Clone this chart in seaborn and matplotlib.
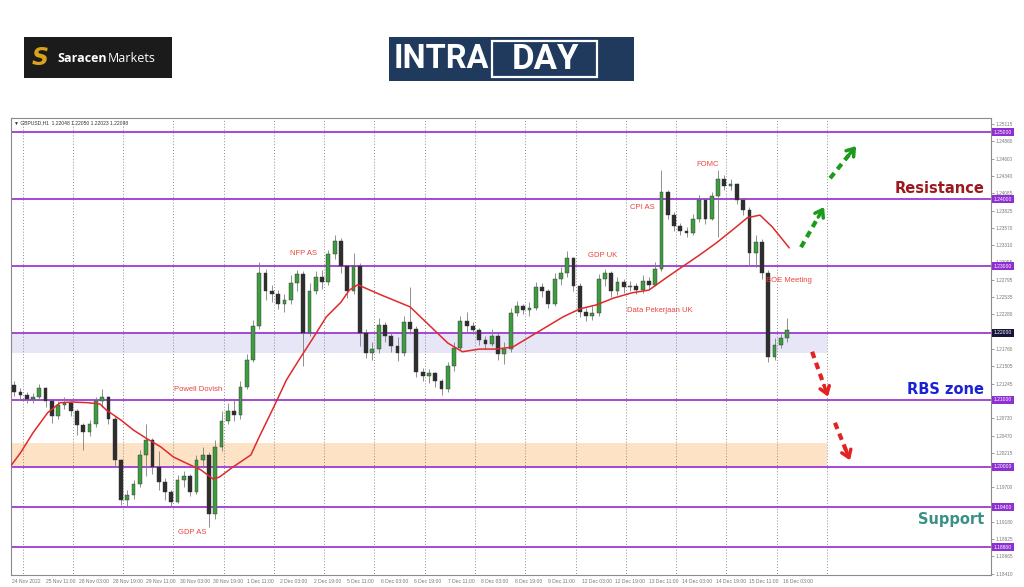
import numpy as np
import pandas as pd
import seaborn as sns
import matplotlib.pyplot as plt
from matplotlib.patches import Rectangle, FancyArrowPatch

# GBPUSD H1, grouped in 3-hour candles (x axis = hourly bar index)
first_open = 1.2122
closes = [1.2112, 1.2108, 1.2102, 1.2104, 1.2118, 1.2098, 1.2076, 1.2092, 1.2096, 1.2084,
          1.2062, 1.2052, 1.2064, 1.2098, 1.2104, 1.2072, 1.2010, 1.1950, 1.1958, 1.1974,
          1.2018, 1.2040, 1.2000, 1.1978, 1.1962, 1.1948, 1.1980, 1.1986, 1.1962, 1.2010,
          1.2018, 1.1930, 1.2030, 1.2068, 1.2084, 1.2078, 1.2120, 1.2160, 1.2210, 1.2290,
          1.2262, 1.2258, 1.2244, 1.2250, 1.2274, 1.2288, 1.2200, 1.2262, 1.2284, 1.2276,
          1.2318, 1.2338, 1.2300, 1.2262, 1.2300, 1.2200, 1.2170, 1.2176, 1.2212, 1.2196,
          1.2180, 1.2170, 1.2216, 1.2206, 1.2142, 1.2136, 1.2140, 1.2128, 1.2116, 1.2150,
          1.2178, 1.2218, 1.2210, 1.2204, 1.2190, 1.2184, 1.2196, 1.2168, 1.2176, 1.2230,
          1.2240, 1.2234, 1.2238, 1.2268, 1.2262, 1.2244, 1.2280, 1.2290, 1.2312, 1.2270,
          1.2232, 1.2226, 1.2230, 1.2280, 1.2290, 1.2262, 1.2276, 1.2268, 1.2270, 1.2264,
          1.2278, 1.2272, 1.2296, 1.2410, 1.2376, 1.2360, 1.2352, 1.2350, 1.2370, 1.2398,
          1.2370, 1.2404, 1.2430, 1.2420, 1.2422, 1.2398, 1.2384, 1.2320, 1.2336, 1.2290,
          1.2164, 1.2182, 1.2192, 1.2205]
highs = [1.2128, 1.2118, 1.2112, 1.2110, 1.2124, 1.2120, 1.2100, 1.2098, 1.2104, 1.2098,
         1.2086, 1.2066, 1.2070, 1.2104, 1.2116, 1.2106, 1.2076, 1.2012, 1.1966, 1.1980,
         1.2026, 1.2064, 1.2044, 1.2024, 1.1984, 1.1966, 1.1988, 1.1994, 1.1990, 1.2018,
         1.2030, 1.2022, 1.2040, 1.2084, 1.2096, 1.2100, 1.2128, 1.2168, 1.2220, 1.2306,
         1.2296, 1.2272, 1.2264, 1.2258, 1.2286, 1.2294, 1.2292, 1.2274, 1.2292, 1.2294,
         1.2324, 1.2346, 1.2342, 1.2302, 1.2320, 1.2304, 1.2206, 1.2186, 1.2222, 1.2216,
         1.2200, 1.2194, 1.2226, 1.2268, 1.2210, 1.2148, 1.2146, 1.2142, 1.2132, 1.2156,
         1.2186, 1.2226, 1.2232, 1.2216, 1.2208, 1.2196, 1.2206, 1.2200, 1.2186, 1.2238,
         1.2248, 1.2244, 1.2246, 1.2276, 1.2274, 1.2266, 1.2290, 1.2298, 1.2322, 1.2314,
         1.2274, 1.2238, 1.2240, 1.2288, 1.2296, 1.2292, 1.2284, 1.2280, 1.2278, 1.2274,
         1.2286, 1.2284, 1.2306, 1.2444, 1.2414, 1.2380, 1.2364, 1.2358, 1.2378, 1.2406,
         1.2402, 1.2410, 1.2444, 1.2436, 1.2430, 1.2424, 1.2402, 1.2388, 1.2346, 1.2340,
         1.2294, 1.2192, 1.2198, 1.2222]
lows = [1.2106, 1.2100, 1.2096, 1.2095, 1.2100, 1.2090, 1.2066, 1.2072, 1.2086, 1.2076,
        1.2048, 1.2026, 1.2046, 1.2060, 1.2090, 1.2064, 1.2000, 1.1944, 1.1942, 1.1952,
        1.1970, 1.1986, 1.1990, 1.1966, 1.1950, 1.1942, 1.1946, 1.1970, 1.1956, 1.1960,
        1.1998, 1.1910, 1.1922, 1.2024, 1.2064, 1.2068, 1.2072, 1.2116, 1.2156, 1.2206,
        1.2250, 1.2246, 1.2236, 1.2232, 1.2244, 1.2262, 1.2150, 1.2196, 1.2258, 1.2266,
        1.2272, 1.2310, 1.2290, 1.2252, 1.2258, 1.2180, 1.2162, 1.2160, 1.2170, 1.2186,
        1.2172, 1.2158, 1.2166, 1.2198, 1.2134, 1.2128, 1.2126, 1.2120, 1.2108, 1.2112,
        1.2144, 1.2174, 1.2200, 1.2198, 1.2182, 1.2176, 1.2180, 1.2160, 1.2154, 1.2172,
        1.2226, 1.2228, 1.2226, 1.2234, 1.2254, 1.2238, 1.2240, 1.2272, 1.2284, 1.2262,
        1.2224, 1.2218, 1.2220, 1.2226, 1.2270, 1.2254, 1.2256, 1.2260, 1.2262, 1.2258,
        1.2260, 1.2266, 1.2270, 1.2292, 1.2370, 1.2352, 1.2346, 1.2344, 1.2346, 1.2366,
        1.2362, 1.2368, 1.2344, 1.2414, 1.2414, 1.2392, 1.2376, 1.2300, 1.2298, 1.2280,
        1.2156, 1.2160, 1.2178, 1.2186]

# red moving average
ma_hours = [-1, 4, 10, 17, 23, 29, 36, 42, 45, 52, 58, 64, 71, 77, 83, 90, 96, 99, 105, 114,
            118, 125, 131, 137, 144, 150, 157, 161, 165, 176, 190, 200, 208, 215, 223, 231, 239,
            247, 255, 263, 271, 279, 287, 296, 304, 313, 320, 328, 336, 344, 351, 357, 363, 371]
ma_values = [1.2000, 1.2021, 1.2051, 1.2081, 1.2096, 1.2097, 1.2096, 1.2094, 1.2085, 1.2070,
             1.2055, 1.2043, 1.2030, 1.2015, 1.2006, 1.1996, 1.1982, 1.1985, 1.1999, 1.2018,
             1.2045, 1.2090, 1.2130, 1.2160, 1.2194, 1.2224, 1.2246, 1.2264, 1.2272, 1.2257,
             1.2239, 1.2209, 1.2185, 1.2172, 1.2176, 1.2176, 1.2179, 1.2194, 1.2209, 1.2224,
             1.2236, 1.2242, 1.2252, 1.2260, 1.2264, 1.2284, 1.2299, 1.2316, 1.2334, 1.2354,
             1.2372, 1.2376, 1.2358, 1.2327]

levels = [1.25, 1.24, 1.23, 1.22, 1.21, 1.20, 1.194, 1.188]
blue_zone = (1.2170, 1.2200)
orange_zone = (1.2000, 1.2036)
zone_end_hour = 389

# right-axis scale labels (the ones hidden under the level tags are left out)
price_ticks = [1.25115, 1.24860, 1.24600, 1.24340, 1.24085, 1.23825, 1.23570, 1.23310,
               1.23055, 1.22795, 1.22535, 1.22280, 1.21760, 1.21505, 1.21245,
               1.20730, 1.20470, 1.20215, 1.19700, 1.19180,
               1.18925, 1.18665, 1.18410]
time_labels = ["24 Nov 2022", "25 Nov 11:00", "28 Nov 03:00", "28 Nov 19:00", "29 Nov 11:00",
               "30 Nov 03:00", "30 Nov 19:00", "1 Dec 11:00", "2 Dec 03:00", "2 Dec 19:00",
               "5 Dec 11:00", "6 Dec 03:00", "6 Dec 19:00", "7 Dec 11:00", "8 Dec 03:00",
               "8 Dec 19:00", "9 Dec 11:00", "12 Dec 03:00", "12 Dec 19:00", "13 Dec 11:00",
               "14 Dec 03:00", "14 Dec 19:00", "15 Dec 11:00", "16 Dec 03:00"]

event_names = ["Powell Dovish", "GDP AS", "NFP AS", "GDP UK", "Data Pekerjaan UK",
               "CPI AS", "FOMC", "BOE Meeting"]
event_hours = [89, 86, 139, 282, 309, 301, 332, 371]
event_prices = [1.2115, 1.1902, 1.2318, 1.2315, 1.2234, 1.2388, 1.2452, 1.2278]

sns.set_style('white')
plt.rcParams['font.family'] = ['Liberation Sans', 'DejaVu Sans']

fig = plt.figure(figsize=(10.24, 5.87), dpi=100)
ax = fig.add_axes([11 / 1024, 1 - 575 / 587, 980 / 1024, 457 / 587])

n = len(closes)
df = pd.DataFrame({
    'hour': [3 * k + 1 for k in range(n)],
    'open': [first_open] + closes[:-1],
    'high': highs, 'low': lows, 'close': closes,
})
up = df['close'] >= df['open']

# zones
for (lo, hi), col in [(blue_zone, '#e6e6f7'), (orange_zone, '#fde2c6')]:
    ax.add_patch(Rectangle((-1, lo), zone_end_hour + 1, hi - lo, facecolor=col,
                           edgecolor='none', zorder=0))

# day separators (dotted)
ax.vlines(range(5, zone_end_hour + 1, 24), 1.18, 1.26, colors='#8c8c8c',
          linestyles=(0, (1, 2)), lw=0.7, zorder=1)

for lv in levels:
    ax.axhline(lv, color='#9c3ad4', lw=1.3, zorder=2)

# candles
ax.vlines(df['hour'], df['low'], df['high'], colors='#7d7d7d', lw=0.6, zorder=3)
ax.bar(df['hour'], df['close'] - df['open'], bottom=df['open'], width=1.8,
       color=np.where(up, '#3f9b3f', '#2e2e2e'), edgecolor='#333333', lw=0.3, zorder=4)

sns.lineplot(x=ma_hours, y=ma_values, ax=ax, color='#e02a2a', lw=1.1, zorder=5)

ax.set_xlim(-0.5, 467.3)
ax.set_ylim(1.18388, 1.25209)

ax.yaxis.tick_right()
ax.set_yticks(price_ticks)
ax.set_yticklabels([f'{v:.5f}' for v in price_ticks], fontsize=3.4, color='#555555')
ax.set_xticks(range(0, 16 * len(time_labels), 16))
ax.set_xticklabels(time_labels, fontsize=3.6, color='#555555', ha='left')
ax.tick_params(axis='both', length=2, width=0.5, pad=1, colors='#777777')
ax.set_xlabel('')
ax.set_ylabel('')
for s in ax.spines.values():
    s.set_color('#8a8a8a')
    s.set_linewidth(0.8)

# level price tags on the right axis
for lv in levels:
    fc = '#15153a' if lv == 1.22 else '#8e2fd2'
    ax.text(1.003, lv, f'{lv:.5f}', transform=ax.get_yaxis_transform(), fontsize=3.6,
            color='white', va='center', ha='left', clip_on=False,
            bbox=dict(boxstyle='square,pad=0.3', fc=fc, ec='none'))

ax.text(0.003, 0.989, '\u25bc GBPUSD,H1  1.22048 1.22050 1.22023 1.22048',
        transform=ax.transAxes, fontsize=3.6, color='#333333', va='center', ha='left')

for name, h, p in zip(event_names, event_hours, event_prices):
    ax.text(h, p, name, fontsize=5.5, color='#e8453c', ha='center', va='center', zorder=6)

ax.text(464, 1.2415, 'Resistance', fontsize=10.5, fontweight='bold', color='#9a1a1f',
        ha='right', va='center', family='DejaVu Sans')
ax.text(464, 1.2115, 'RBS zone', fontsize=10.5, fontweight='bold', color='#1a22d6',
        ha='right', va='center', family='DejaVu Sans')
ax.text(464, 1.1921, 'Support', fontsize=10.5, fontweight='bold', color='#3a8f87',
        ha='right', va='center', family='DejaVu Sans')

# dashed direction arrows
arrows = [((390.5, 1.2431), (402.9, 1.2479), '#1c9a1c'),
          ((376.6, 1.2328), (387.6, 1.2388), '#1c9a1c'),
          ((381.9, 1.2172), (389.5, 1.2105), '#e32222'),
          ((392.8, 1.2066), (400.0, 1.2010), '#e32222')]
for (x0, y0), (x1, y1), col in arrows:
    xm, ym = x0 + 0.75 * (x1 - x0), y0 + 0.75 * (y1 - y0)
    ax.plot([x0, xm], [y0, ym], color=col, lw=3, ls=(0, (1.6, 1.2)), solid_capstyle='butt',
            zorder=6)
    ax.annotate('', xy=(x1, y1), xytext=(xm, ym),
                arrowprops=dict(arrowstyle='->,head_length=0.5,head_width=0.35', color=col,
                                lw=2.5, shrinkA=0, shrinkB=0), zorder=6)

# logos
fig.patches.append(Rectangle((24 / 1024, 1 - 78 / 587), 148 / 1024, 41 / 587,
                             transform=fig.transFigure, facecolor='#1b1b1b', edgecolor='none'))
fig.text(40 / 1024, 1 - 58 / 587, 'S', fontsize=17, fontweight='bold', style='oblique',
         color='#d9a21e', ha='center', va='center', family='DejaVu Sans')
fig.text(57 / 1024, 1 - 58 / 587, 'Saracen', fontsize=9, fontweight='bold', color='white',
         ha='left', va='center', family='Open Sans')
fig.text(108 / 1024, 1 - 58 / 587, 'Markets', fontsize=9, color='white', ha='left',
         va='center', family='Open Sans')

fig.patches.append(Rectangle((389 / 1024, 1 - 81 / 587), 245 / 1024, 44 / 587,
                             transform=fig.transFigure, facecolor='#1f3a5d', edgecolor='none'))
fig.patches.append(Rectangle((492 / 1024, 1 - 77 / 587), 105 / 1024, 36 / 587,
                             transform=fig.transFigure, facecolor='none', edgecolor='white',
                             lw=1.6))
fig.text(441 / 1024, 1 - 59.5 / 587, 'INTRA', fontsize=23.5, fontweight='bold', color='white',
         ha='center', va='center', family='Roboto')
fig.text(545 / 1024, 1 - 59.5 / 587, 'DAY', fontsize=25, fontweight='bold', color='white',
         ha='center', va='center', family='Roboto')
fig.add_artist(FancyArrowPatch((606 / 1024, 1 - 66 / 587), (629 / 1024, 1 - 41 / 587),
                               transform=fig.transFigure, arrowstyle='simple,head_width=1.2,head_length=0.8,tail_width=0.5',
                               mutation_scale=10, color='#27c6d6'))
fig.add_artist(FancyArrowPatch((627 / 1024, 1 - 55 / 587), (604 / 1024, 1 - 78 / 587),
                               transform=fig.transFigure, arrowstyle='simple,head_width=1.2,head_length=0.8,tail_width=0.5',
                               mutation_scale=10, color='#e43fc8'))

fig.savefig('out.png', dpi=100, facecolor='white')
